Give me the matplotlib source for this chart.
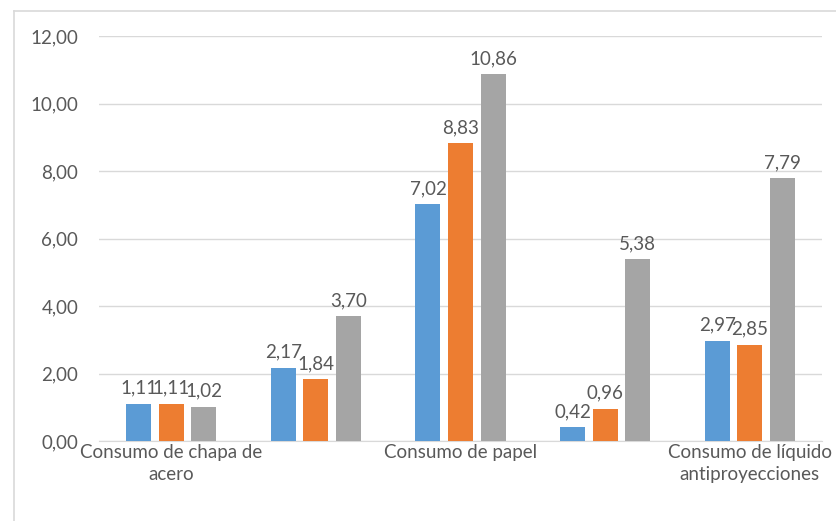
import matplotlib
matplotlib.use("Agg")
import matplotlib.pyplot as plt
import numpy as np

# Data
tick_labels = ["Consumo de chapa de\nacero", "", "Consumo de papel", "", "Consumo de líquido\nantiproyecciones"]
serie_1 = [1.11, 2.17, 7.02, 0.42, 2.97]
serie_2 = [1.11, 1.84, 8.83, 0.96, 2.85]
serie_3 = [1.02, 3.70, 10.86, 5.38, 7.79]
y_ticks = [0, 2, 4, 6, 8, 10, 12]

colors = ["#5B9BD5", "#ED7D31", "#A5A5A5"]
text_color = "#595959"
plt.rcParams['font.family'] = ['Lato', 'DejaVu Sans']
fs = 13.5

fig = plt.figure(figsize=(8.37, 5.21), dpi=100)
ax = fig.add_axes([99/837, 1-441/521, (822-99)/837, (441-36)/521])

x = np.arange(len(tick_labels))
bw = 0.173
step = 0.225
for i, (vals, c) in enumerate(zip([serie_1, serie_2, serie_3], colors)):
    pos = x + (i - 1) * step
    bars = ax.bar(pos, vals, width=bw, color=c, zorder=3)
    for p, v in zip(pos, vals):
        ax.annotate(f"{v:.2f}".replace('.', ','), (p, v), xytext=(0, 5),
                    textcoords='offset points', ha='center', va='bottom',
                    fontsize=fs, color=text_color)

ax.set_xlim(-0.5, len(tick_labels) - 0.5)
ax.set_ylim(0, 12)
ax.set_yticks(y_ticks)
ax.set_yticklabels([f"{t:.2f}".replace('.', ',') for t in y_ticks])
ax.set_xticks(x)
ax.set_xticklabels(tick_labels, linespacing=1.35)
ax.tick_params(axis='both', length=0, labelsize=fs, colors=text_color)
ax.tick_params(axis='y', pad=15)
ax.tick_params(axis='x', pad=2)
for s in ['top', 'right', 'left']:
    ax.spines[s].set_visible(False)
ax.spines['bottom'].set_color('#d9d9d9')
ax.grid(axis='y', color='#d9d9d9', linewidth=1, zorder=0)
ax.set_axisbelow(True)

# outer chart border (cropped at right/bottom)
fig.add_artist(plt.Line2D([14.5/837, 14.5/837], [0, 1-10.5/521], transform=fig.transFigure, color='#d9d9d9', linewidth=1.2))
fig.add_artist(plt.Line2D([14.5/837, 1], [1-10.5/521, 1-10.5/521], transform=fig.transFigure, color='#d9d9d9', linewidth=1.2))

fig.savefig("out.png", dpi=100)
